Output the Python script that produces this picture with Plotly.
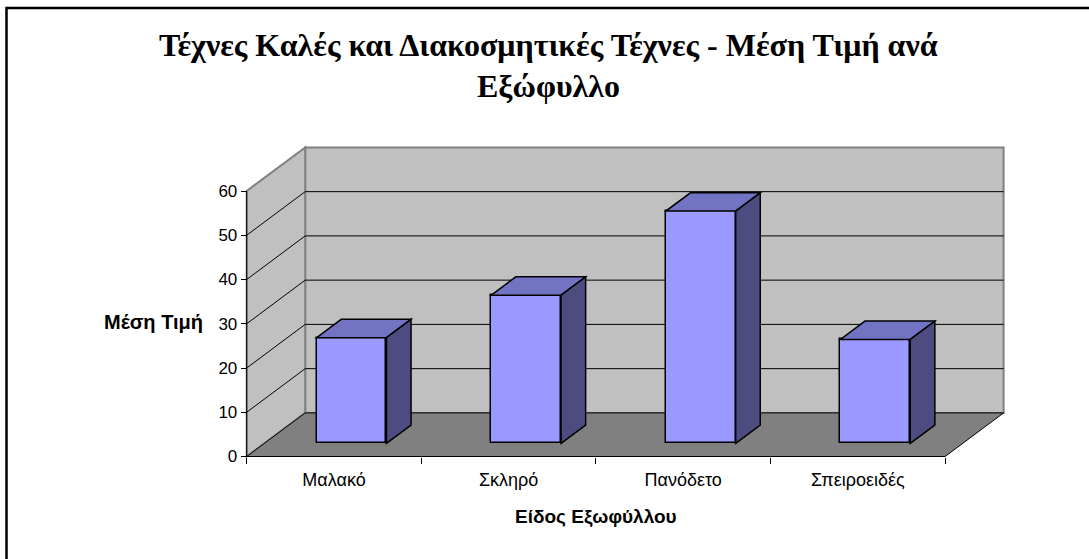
import plotly.graph_objects as go

# ---------------- data ----------------
categories = ["Μαλακό", "Σκληρό", "Πανόδετο", "Σπειροειδές"]
values = [23.9, 33.5, 52.5, 23.5]
y_ticks = [0, 10, 20, 30, 40, 50, 60]
title_lines = ["Τέχνες Καλές και Διακοσμητικές Τέχνες - Μέση Τιμή ανά", "Εξώφυλλο"]
y_title = "Μέση Τιμή"
x_title = "Είδος Εξωφύλλου"

# ---------------- geometry (pixels) ----------------
FIG_W, FIG_H = 1089, 559
L, R, T, B = 236, 1014, 138, 464          # plot area in px
PW, PH = R - L, B - T
X0PX, SX = 246.7, 174.6                   # px of x=0, px per category
Y0PX, SY = 456.5, 4.425                   # px of y=0, px per value unit
YMAX = 60
xr = [(L - X0PX) / SX, (R - X0PX) / SX]
yr = [(Y0PX - B) / SY, (Y0PX - T) / SY]
DX, DY = 58.5 / SX, 43.6 / SY             # depth vector in data units
N = len(categories)
D_FRONT, D_BACK = 0.30, 0.72              # bar depth (fraction of floor depth)
BAR_W = 0.40

def pxx(px):
    return (px - L) / PW

def pxy(py):
    return (B - py) / PH

WALL = "#c0c0c0"
WALL_EDGE = "#808080"
FLOOR = "#808080"
FRONT = "#9999ff"
TOP = "#7373c4"
SIDE = "#4c4c80"

def path(pts):
    return "M " + " L ".join(f"{x},{y}" for x, y in pts) + " Z"

def open_path(pts):
    return "M " + " L ".join(f"{x},{y}" for x, y in pts)

shapes = []
# back wall
shapes.append(dict(type="path", xref="x", yref="y", layer="below",
                   path=path([(DX, DY), (N + DX, DY), (N + DX, YMAX + DY), (DX, YMAX + DY)]),
                   fillcolor=WALL, line=dict(color=WALL_EDGE, width=2)))
# side wall
shapes.append(dict(type="path", xref="x", yref="y", layer="below",
                   path=path([(0, 0), (DX, DY), (DX, YMAX + DY), (0, YMAX)]),
                   fillcolor=WALL, line=dict(color=WALL_EDGE, width=2)))
# gridlines
for v in y_ticks[1:-1]:
    shapes.append(dict(type="path", xref="x", yref="y", layer="below",
                       path=open_path([(0, v), (DX, v + DY), (N + DX, v + DY)]),
                       line=dict(color="#000000", width=1)))
# floor
shapes.append(dict(type="path", xref="x", yref="y", layer="below",
                   path=path([(0, 0), (N, 0), (N + DX, DY), (DX, DY)]),
                   fillcolor=FLOOR, line=dict(color="#000000", width=1)))
# value axis line
shapes.append(dict(type="line", xref="x", yref="y", layer="below",
                   x0=0, y0=0, x1=0, y1=YMAX, line=dict(color="#000000", width=1)))

# bars: front faces as bar trace, top and side faces as shapes
cx = [i + 0.5 + D_FRONT * DX for i in range(N)]
base = D_FRONT * DY
ddx, ddy = (D_BACK - D_FRONT) * DX, (D_BACK - D_FRONT) * DY
for c, v in zip(cx, values):
    x0, x1 = c - BAR_W / 2, c + BAR_W / 2
    top = base + v
    shapes.append(dict(type="path", xref="x", yref="y", layer="above",
                       path=path([(x0, top), (x1, top), (x1 + ddx, top + ddy), (x0 + ddx, top + ddy)]),
                       fillcolor=TOP, line=dict(color="#000000", width=1.5)))
    shapes.append(dict(type="path", xref="x", yref="y", layer="above",
                       path=path([(x1, base), (x1 + ddx, base + ddy), (x1 + ddx, top + ddy), (x1, top)]),
                       fillcolor=SIDE, line=dict(color="#000000", width=1.5)))

# outer border
shapes.append(dict(type="rect", xref="paper", yref="paper", layer="above",
                   x0=pxx(6.5), y0=pxy(FIG_H + 20), x1=pxx(FIG_W + 20), y1=pxy(8),
                   line=dict(color="#000000", width=2.5), fillcolor="rgba(0,0,0,0)"))

fig = go.Figure()
fig.add_trace(go.Bar(x=cx, y=values, base=[base] * N, width=BAR_W,
                     marker=dict(color=FRONT, line=dict(color="#000000", width=1.5)),
                     hoverinfo="skip", showlegend=False))

SANS = "Liberation Sans, Arial, sans-serif"
SERIF = "Liberation Serif, Times New Roman, serif"

annotations = [
    dict(text=f"<b>{title_lines[0]}</b>", xref="paper", yref="paper", x=pxx(548), y=pxy(45),
         xanchor="center", yanchor="middle", showarrow=False,
         font=dict(family=SERIF, size=32, color="#000000")),
    dict(text=f"<b>{title_lines[1]}</b>", xref="paper", yref="paper", x=pxx(548), y=pxy(86),
         xanchor="center", yanchor="middle", showarrow=False,
         font=dict(family=SERIF, size=32, color="#000000")),
    dict(text=f"<b>{y_title}</b>", xref="paper", yref="paper", x=pxx(205), y=pxy(322),
         xanchor="right", yanchor="middle", showarrow=False,
         font=dict(family=SANS, size=20, color="#000000")),
    dict(text=f"<b>{x_title}</b>", xref="paper", yref="paper", x=pxx(596), y=pxy(517),
         xanchor="center", yanchor="middle", showarrow=False,
         font=dict(family=SANS, size=19, color="#000000")),
]

fig.update_layout(
    width=FIG_W, height=FIG_H, autosize=False,
    margin=dict(l=L, r=FIG_W - R, t=T, b=FIG_H - B, pad=0),
    paper_bgcolor="#ffffff", plot_bgcolor="rgba(0,0,0,0)",
    showlegend=False, bargap=0,
    shapes=shapes, annotations=annotations,
    xaxis=dict(range=xr, anchor="free", position=pxy(Y0PX),
               tickmode="array", tickvals=[i + 0.5 for i in range(N)], ticktext=categories,
               ticks="outside", ticklen=7, tickcolor="rgba(0,0,0,0)",
               minor=dict(tickmode="array", tickvals=list(range(N + 1)), ticks="outside",
                          ticklen=6, tickcolor="#000000", tickwidth=1, showgrid=False),
               showgrid=False, zeroline=False, showline=False,
               tickfont=dict(family=SANS, size=18, color="#000000"), fixedrange=True),
    yaxis=dict(range=yr, anchor="free", position=pxx(X0PX),
               tickmode="array", tickvals=y_ticks,
               ticks="outside", ticklen=6, tickcolor="#000000", tickwidth=1,
               showgrid=False, zeroline=False, showline=False,
               tickfont=dict(family=SANS, size=17, color="#000000"), fixedrange=True),
)

fig.write_html("out.html", config={"displayModeBar": False},
               post_script="document.body.style.margin='0';")
